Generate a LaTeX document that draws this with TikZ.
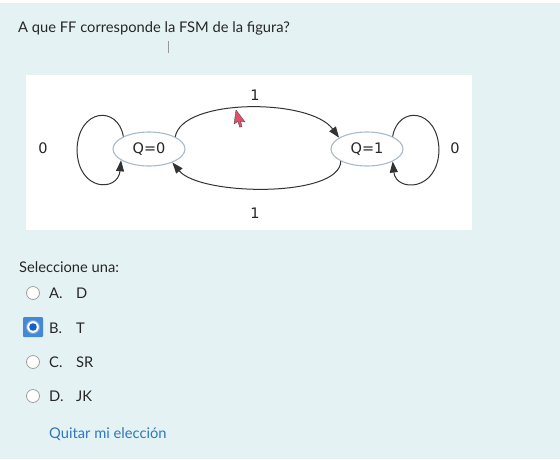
\documentclass[tikz,border=0pt]{standalone}
\usepackage{fontspec}
\setmainfont{Lato}
\newfontfamily\diagfont{DejaVu Sans}
\usetikzlibrary{arrows.meta,shapes.geometric}
\definecolor{pagebg}{HTML}{E5F2F4}
\definecolor{txt}{HTML}{262626}
\definecolor{edgecol}{HTML}{333333}
\definecolor{statebd}{HTML}{A9BACB}
\definecolor{linkcol}{HTML}{2F78BA}
\definecolor{selblue}{HTML}{4389D6}
\definecolor{dotblue}{HTML}{1560C8}
\definecolor{cursred}{HTML}{E0506A}
\tikzset{
  state/.style={ellipse, draw=statebd, line width=1.1pt, fill=white,
    minimum width=72pt, minimum height=34pt, inner sep=0pt,
    font=\diagfont\fontsize{14.5}{16}\selectfont, text=txt},
  lab/.style={font=\diagfont\fontsize{14.5}{16}\selectfont, text=txt, inner sep=0pt},
  edge/.style={draw=edgecol, line width=1pt, -{Triangle[length=11pt,width=8pt]}},
  body/.style={font=\fontsize{14.7}{17}\selectfont, text=txt, inner sep=0pt, anchor=base west},
  radio/.style={circle, draw=gray!75, line width=0.8pt, fill=white, minimum size=13pt, inner sep=0pt},
}
\begin{document}
\begin{tikzpicture}[x=1pt,y=-1pt]
\useasboundingbox (0,0) rectangle (560,459);
\fill[pagebg] (0,0) rectangle (560,459);
\fill[white] (0,0) rectangle (560,3);
% question
\node[body] (q) at (18,32) {A que FF corresponde la FSM de la figura?};
\draw[gray!80, line width=0.6pt] (168,41) -- (168,53);
% figure panel
\fill[white] (26,75) rectangle (472,230);
\node[state] (q0) at (149,149) {Q=0};
\node[state] (q1) at (367,149) {Q=1};
\coordinate (lft) at (77,150);
\coordinate (rgt) at (439,150);
\draw[edge] (q0.25) .. controls (182,98) and (310,98) .. (q1.158);
\draw[edge] (q1.205) .. controls (340,198) and (200,196) .. (q0.330);
\draw[edge] (q0.154) .. controls (118,105) and (78,108) .. (lft) .. controls (78,192) and (118,192) .. (q0.202);
\draw[edge] (q1.26) .. controls (398,105) and (438,108) .. (rgt) .. controls (438,192) and (396,192) .. (q1.334);
\node[lab] (l0a) at (43,148) {0};
\node[lab] (l0b) at (455,148) {0};
\node[lab] (l1a) at (255,95) {1};
\node[lab] (l1b) at (255,213) {1};
% mouse pointer
\filldraw[fill=cursred, draw=black!70, line width=0.4pt, shift={(236,110)}, rotate=-8]
  (0,0) -- (0,14) -- (3.5,11) -- (6,16.5) -- (8.3,15.5) -- (6,10.5) -- (10.5,10.5) -- cycle;
% answers
\node[body] (sel) at (19,272) {Seleccione una:};
\node[radio] (ra) at (33,293) {};
\node[body] (ta) at (49,298) {A.};
\node[body] (va) at (76,298) {D};
\fill[selblue, rounded corners=1pt] (23,317) rectangle (43,337);
\node[radio, draw=dotblue!60, line width=1pt] (rb) at (33,327) {};
\fill[dotblue] (rb.center) circle (3.8pt);
\node[body] (tb) at (49,333) {B.};
\node[body] (vb) at (76,333) {T};
\node[radio] (rc) at (33,362) {};
\node[body] (tc) at (49,367) {C.};
\node[body] (vc) at (76,367) {SR};
\node[radio] (rd) at (33,396) {};
\node[body] (td) at (49,401) {D.};
\node[body] (vd) at (76,401) {JK};
\node[body, text=linkcol] (quit) at (49,438) {Quitar mi elección};
\end{tikzpicture}
\end{document}
